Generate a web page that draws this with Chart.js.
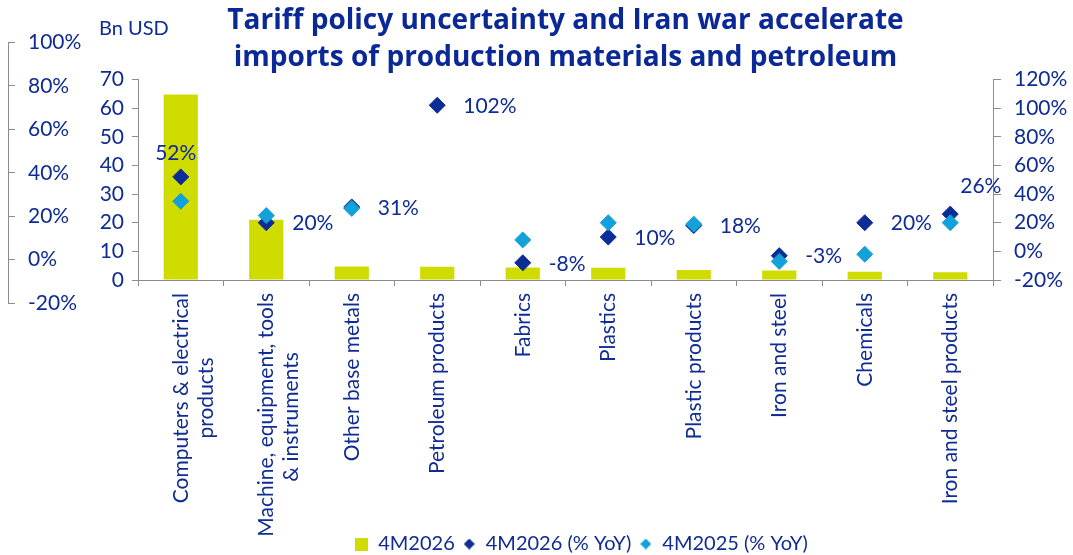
<!DOCTYPE html>
<html>
<head>
<meta charset="utf-8">
<script src="https://cdn.jsdelivr.net/npm/chart.js@4.4.1/dist/chart.umd.min.js"></script>
<style>
  body { margin: 0; background: #fff; }
  #wrap { position: relative; width: 1073px; height: 555px; }
  #unit { position: absolute; left: 99px; top: 15px; font: 20px Lato; color: #0f2b94; }
</style>
</head>
<body>
<div id="wrap">
  <canvas id="importsChart" width="1073" height="555"></canvas>
  <div id="unit">Bn USD</div>
</div>
<script>
/* #region  DATA */
const categories = [
  ["Computers & electrical", "products"],
  ["Machine, equipment, tools", "& instruments"],
  "Other base metals",
  "Petroleum products",
  "Fabrics",
  "Plastics",
  "Plastic products",
  "Iron and steel",
  "Chemicals",
  "Iron and steel products",
];
const imports4M2026 = [64.8, 21, 4.7, 4.6, 4.4, 4.3, 3.5, 3.3, 2.9, 2.7];
const yoy4M2026 = [52, 20, 31, 102, -8, 10, 18, -3, 20, 26];
const yoy4M2025 = [35, 25, 30, null, 8, 20, 19, -7, -2, 20];
const bnTicks = { min: 0, max: 70, step: 10 };
const pctTicks = { min: -20, max: 120, step: 20 };
const outerPctTicks = { min: -20, max: 100, step: 20 };
/* #endregion */

const navy = "#0f2b94";
const axisGrey = "#8c8c8c";
const barColor = "#d0db00";
const darkBlue = "#0c2c96";
const lightBlue = "#12a1d8";
// where the % label sits next to each dark diamond
const labelSpots = ["above", "right", "right", "right", "right", "right", "right", "right", "right", "aboveRight"];

Chart.defaults.font.family = "Lato";
Chart.defaults.font.size = 21;
Chart.defaults.color = navy;

// centre the shorter line of a two-line rotated label
const measureCtx = document.createElement("canvas").getContext("2d");
measureCtx.font = "21px Lato";
function centerLines(label) {
  if (!Array.isArray(label)) return label;
  const widths = label.map((l) => measureCtx.measureText(l).width);
  const widest = Math.max(...widths);
  const space = measureCtx.measureText(" ").width;
  return label.map((l, i) => l + " ".repeat(Math.round((widest - widths[i]) / 2 / space)));
}

// small legend markers (square bigger than the diamonds, like the original)
function marker(color, size, diamond) {
  const c = document.createElement("canvas");
  c.width = size;
  c.height = size;
  const g = c.getContext("2d");
  g.fillStyle = color;
  if (diamond) {
    g.beginPath();
    g.moveTo(size / 2, 0);
    g.lineTo(size, size / 2);
    g.lineTo(size / 2, size);
    g.lineTo(0, size / 2);
    g.closePath();
    g.fill();
  } else {
    g.fillRect(0, 0, size, size);
  }
  return c;
}
const legendMarkers = [marker(barColor, 13, false), marker(darkBlue, 11, true), marker(lightBlue, 11, true)];

const yoyLabels = {
  id: "yoyLabels",
  afterDatasetsDraw(chart) {
    const ctx = chart.ctx;
    const meta = chart.getDatasetMeta(1);
    ctx.save();
    ctx.font = "21px Lato";
    ctx.fillStyle = navy;
    ctx.textBaseline = "middle";
    meta.data.forEach((pt, i) => {
      const v = yoy4M2026[i];
      if (v === null) return;
      const txt = v + "%";
      if (labelSpots[i] === "above") {
        ctx.textAlign = "center";
        ctx.fillText(txt, pt.x - 5, pt.y - 24);
      } else if (labelSpots[i] === "aboveRight") {
        ctx.textAlign = "left";
        ctx.fillText(txt, pt.x + 10, pt.y - 28);
      } else {
        ctx.textAlign = "left";
        ctx.fillText(txt, pt.x + 26, pt.y + 1);
      }
    });
    ctx.restore();
  },
};

// the old % axis on the far left runs past the plot top and bottom,
// the long category labels run into the legend band,
// and the legend sits a little right of the plot centre
const tweakLayout = {
  id: "tweakLayout",
  afterLayout(chart) {
    const s = chart.scales.yOuter;
    const a = chart.chartArea;
    s.top = a.top - 37;
    s.bottom = a.bottom + 23;
    s.height = s.bottom - s.top;
    s.configure();
    chart.scales.x.bottom = chart.height;
    chart.legend.left += 16;
    chart.legend.right += 16;
  },
};

let importsChart = new Chart(document.getElementById("importsChart").getContext("2d"), {
  data: {
    labels: categories,
    datasets: [
      {
        type: "bar",
        label: "4M2026",
        data: imports4M2026,
        yAxisID: "yBn",
        backgroundColor: barColor,
        barPercentage: 0.4,
        categoryPercentage: 1,
        order: 3,
      },
      {
        type: "line",
        label: "4M2026 (% YoY)",
        data: yoy4M2026,
        yAxisID: "yPct",
        showLine: false,
        pointStyle: "rectRot",
        pointRadius: 8,
        backgroundColor: darkBlue,
        borderColor: darkBlue,
        borderWidth: 1,
        order: 2,
      },
      {
        type: "line",
        label: "4M2025 (% YoY)",
        data: yoy4M2025,
        yAxisID: "yPct",
        showLine: false,
        pointStyle: "rectRot",
        pointRadius: 8,
        backgroundColor: lightBlue,
        borderColor: lightBlue,
        borderWidth: 1,
        order: 1,
      },
    ],
  },
  options: {
    responsive: false,
    animation: false,
    layout: { padding: { left: 4, right: 0, top: 0, bottom: -9 } },
    plugins: {
      title: {
        display: true,
        fullSize: false,
        text: ["Tariff policy uncertainty and Iran war accelerate", "imports of production materials and petroleum"],
        color: "#0a2896",
        font: { family: "Open Sans", size: 28, weight: "bold", lineHeight: 1.33 },
        padding: { top: 2, bottom: 3 },
      },
      legend: {
        position: "bottom",
        fullSize: false,
        labels: {
          usePointStyle: true,
          boxWidth: 13,
          boxHeight: 13,
          padding: 8,
          font: { size: 20, lineHeight: 1 },
          sort: (a, b) => a.datasetIndex - b.datasetIndex,
          generateLabels: (chart) => {
            const items = Chart.defaults.plugins.legend.labels.generateLabels(chart);
            items.forEach((it) => { it.pointStyle = legendMarkers[it.datasetIndex]; });
            return items;
          },
        },
      },
      tooltip: { enabled: false },
    },
    scales: {
      x: {
        grid: { drawOnChartArea: false, tickLength: 6, color: axisGrey },
        border: { color: axisGrey },
        afterFit: (scale) => { scale.height = 246; },
        ticks: {
          autoSkip: false,
          minRotation: 90,
          maxRotation: 90,
          padding: 7,
          callback: (value, index) => centerLines(categories[index]),
        },
      },
      yBn: {
        position: "left",
        weight: 0,
        min: bnTicks.min,
        max: bnTicks.max,
        grid: { drawOnChartArea: false, tickLength: 6, color: axisGrey },
        border: { color: axisGrey },
        afterFit: (scale) => { scale.width = 130; },
        ticks: { stepSize: bnTicks.step, padding: 8 },
      },
      yOuter: {
        position: "left",
        weight: 1,
        min: outerPctTicks.min,
        max: outerPctTicks.max,
        grid: { drawOnChartArea: false, tickLength: -7, color: axisGrey },
        border: { color: axisGrey },
        afterFit: (scale) => { scale.width = 4; },
        ticks: {
          stepSize: outerPctTicks.step,
          mirror: true,
          crossAlign: "near",
          padding: 20,
          callback: (v) => v + "%",
        },
      },
      yPct: {
        position: "right",
        min: pctTicks.min,
        max: pctTicks.max,
        grid: { drawOnChartArea: false, tickLength: 8, color: axisGrey },
        border: { color: axisGrey },
        afterFit: (scale) => { scale.width = 80; },
        ticks: { stepSize: pctTicks.step, padding: 13, callback: (v) => v + "%" },
      },
    },
  },
  plugins: [yoyLabels, tweakLayout],
});
</script>
</body>
</html>
